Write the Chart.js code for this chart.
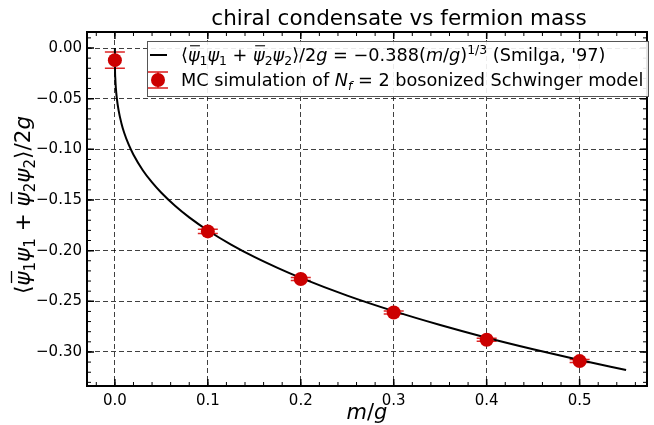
<!DOCTYPE html>
<html lang="en">
<head>
    <meta charset="UTF-8">
    <title>chiral condensate vs fermion mass</title>
    <style>
        body { margin: 0; background: #fff; }
        #wrap { width: 654px; height: 425px; }
    </style>
</head>
<body>
<div id="wrap"><canvas id="chart" width="654" height="425"></canvas></div>

<script src="https://cdn.jsdelivr.net/npm/chart.js@4.4.0/dist/chart.umd.min.js"></script>
<script>
// tick labels
const xTicks = [0.0, 0.1, 0.2, 0.3, 0.4, 0.5];
const yTicks = [0.00, -0.05, -0.10, -0.15, -0.20, -0.25, -0.30];

// MC simulation points
const mcMass = [0.0, 0.1, 0.2, 0.3, 0.4, 0.5];
const mcCondensate = [-0.012, -0.181, -0.228, -0.261, -0.288, -0.309];
const mcError = [0.008, 0.002, 0.0015, 0.0015, 0.0015, 0.0015];

// Smilga curve
const curveMass = [0, 0.0001, 0.0005, 0.001, 0.002, 0.004, 0.007, 0.01, 0.015, 0.02, 0.03, 0.04, 0.05,
    0.065, 0.08, 0.1, 0.125, 0.15, 0.175, 0.2, 0.25, 0.3, 0.35, 0.4, 0.45, 0.5, 0.55];
const curveCondensate = [0, -0.0180, -0.0308, -0.0388, -0.0489, -0.0616, -0.0742, -0.0836, -0.0957, -0.1053,
    -0.1206, -0.1327, -0.1429, -0.1560, -0.1672, -0.1801, -0.1940, -0.2062, -0.2170, -0.2269, -0.2444,
    -0.2597, -0.2734, -0.2859, -0.2973, -0.3080, -0.3179];

const FONT = '"DejaVu Sans", sans-serif';
const RED = '#cc0000';

function fmt(v, d) {
    return v.toFixed(d).replace('-', '\u2212');
}

// draw a row of mixed text pieces (italic, sub/superscript, overbar)
function runFont(r, size) {
    const s = r.sub || r.sup ? size * 0.7 : size;
    return (r.it ? 'italic ' : '') + s + 'px ' + FONT;
}
function runsWidth(ctx, runs, size) {
    let w = 0;
    runs.forEach(r => { ctx.font = runFont(r, size); w += ctx.measureText(r.t).width; });
    return w;
}
function drawRuns(ctx, runs, x, y, size) {
    ctx.textAlign = 'left';
    ctx.textBaseline = 'alphabetic';
    runs.forEach(r => {
        ctx.font = runFont(r, size);
        let dy = 0;
        if (r.sub) dy = size * 0.22;
        if (r.sup) dy = -size * 0.42;
        ctx.fillText(r.t, x, y + dy);
        const w = ctx.measureText(r.t).width;
        if (r.bar) {
            ctx.save();
            ctx.strokeStyle = ctx.fillStyle;
            ctx.lineWidth = size * 0.06;
            ctx.beginPath();
            ctx.moveTo(x + size * 0.12, y - size * 0.86);
            ctx.lineTo(x + w + size * 0.02, y - size * 0.86);
            ctx.stroke();
            ctx.restore();
        }
        x += w;
    });
}

const condensateRuns = [
    { t: '\u27E8' }, { t: '\u03C8', it: true, bar: true }, { t: '1', sub: true },
    { t: '\u03C8', it: true }, { t: '1', sub: true }, { t: ' + ' },
    { t: '\u03C8', it: true, bar: true }, { t: '2', sub: true },
    { t: '\u03C8', it: true }, { t: '2', sub: true }, { t: '\u27E9/2' }, { t: 'g', it: true }
];
const legendLine1 = condensateRuns.concat([
    { t: ' = \u22120.388(' }, { t: 'm', it: true }, { t: '/' }, { t: 'g', it: true }, { t: ')' },
    { t: '1/3', sup: true }, { t: " (Smilga, '97)" }
]);
const legendLine2 = [
    { t: 'MC simulation of ' }, { t: 'N', it: true }, { t: 'f', it: true, sub: true },
    { t: ' = 2 bosonized Schwinger model' }
];

const decorPlugin = {
    id: 'decor',
    beforeDatasetsDraw(chart) {
        // error bars under the markers
        const ctx = chart.ctx, xs = chart.scales.x, ys = chart.scales.y;
        ctx.save();
        ctx.strokeStyle = 'rgba(215,0,0,0.85)';
        ctx.lineWidth = 1.5;
        mcMass.forEach((m, i) => {
            const px = xs.getPixelForValue(m);
            const top = ys.getPixelForValue(mcCondensate[i] + mcError[i]);
            const bot = ys.getPixelForValue(mcCondensate[i] - mcError[i]);
            ctx.beginPath();
            ctx.moveTo(px, top); ctx.lineTo(px, bot);
            ctx.moveTo(px - 10, top); ctx.lineTo(px + 10, top);
            ctx.moveTo(px - 10, bot); ctx.lineTo(px + 10, bot);
            ctx.stroke();
        });
        ctx.restore();
    },
    afterDraw(chart) {
        const ctx = chart.ctx, a = chart.chartArea, xs = chart.scales.x, ys = chart.scales.y;
        ctx.save();
        ctx.strokeStyle = '#000';

        // inward ticks on all four sides
        const xMinor = [], yMinor = [];
        for (let k = -1; k <= 28; k++) xMinor.push(k * 0.02);
        for (let k = 1; k >= -33; k--) yMinor.push(k * 0.01);
        function xTick(v, len, lw) {
            const p = xs.getPixelForValue(v);
            if (p < a.left || p > a.right) return;
            ctx.lineWidth = lw;
            ctx.beginPath();
            ctx.moveTo(p, a.bottom); ctx.lineTo(p, a.bottom - len);
            ctx.moveTo(p, a.top); ctx.lineTo(p, a.top + len);
            ctx.stroke();
        }
        function yTick(v, len, lw) {
            const p = ys.getPixelForValue(v);
            if (p < a.top || p > a.bottom) return;
            ctx.lineWidth = lw;
            ctx.beginPath();
            ctx.moveTo(a.left, p); ctx.lineTo(a.left + len, p);
            ctx.moveTo(a.right, p); ctx.lineTo(a.right - len, p);
            ctx.stroke();
        }
        xMinor.forEach(v => xTick(v, 4, 1));
        yMinor.forEach(v => yTick(v, 4, 1));
        xTicks.forEach(v => xTick(v, 7, 1.5));
        yTicks.forEach(v => yTick(v, 7, 1.5));

        // frame
        ctx.lineWidth = 2;
        ctx.strokeRect(a.left, a.top, a.right - a.left, a.bottom - a.top);

        // legend
        const lx = 147, ly = 41, lw = 501, lh = 55;
        ctx.fillStyle = 'rgba(255,255,255,0.9)';
        ctx.fillRect(lx, ly, lw, lh);
        ctx.strokeStyle = '#555';
        ctx.lineWidth = 1;
        ctx.strokeRect(lx + 0.5, ly + 0.5, lw, lh);

        ctx.strokeStyle = '#000';
        ctx.lineWidth = 2;
        ctx.beginPath();
        ctx.moveTo(150, 55); ctx.lineTo(167, 55);
        ctx.stroke();

        ctx.strokeStyle = 'rgba(215,0,0,0.9)';
        ctx.lineWidth = 1.5;
        ctx.beginPath();
        ctx.moveTo(158, 72); ctx.lineTo(158, 88);
        ctx.moveTo(148, 72); ctx.lineTo(168, 72);
        ctx.moveTo(148, 88); ctx.lineTo(168, 88);
        ctx.stroke();
        ctx.fillStyle = RED;
        ctx.beginPath();
        ctx.arc(158, 80, 7, 0, Math.PI * 2);
        ctx.fill();

        ctx.fillStyle = '#000';
        drawRuns(ctx, legendLine1, 181, 61, 17.7);
        drawRuns(ctx, legendLine2, 181, 86, 17.7);

        // title and axis labels
        const cx = (a.left + a.right) / 2;
        ctx.font = '21.5px ' + FONT;
        ctx.textAlign = 'center';
        ctx.textBaseline = 'alphabetic';
        ctx.fillText('chiral condensate vs fermion mass', 399, 25);

        const xl = [{ t: 'm', it: true }, { t: '/' }, { t: 'g', it: true }];
        drawRuns(ctx, xl, cx - runsWidth(ctx, xl, 21) / 2, 419, 21);

        ctx.save();
        ctx.translate(30, (a.top + a.bottom) / 2 - 4);
        ctx.rotate(-Math.PI / 2);
        drawRuns(ctx, condensateRuns, -runsWidth(ctx, condensateRuns, 21.5) / 2, 0, 21.5);
        ctx.restore();

        ctx.restore();
    }
};

const gridStyle = {
    color: 'rgba(0,0,0,0.75)',
    lineWidth: 1,
    drawTicks: false
};

new Chart(document.getElementById('chart'), {
    type: 'scatter',
    data: {
        datasets: [
            {
                label: 'MC simulation of N_f = 2 bosonized Schwinger model',
                data: mcMass.map((m, i) => ({ x: m, y: mcCondensate[i] })),
                pointRadius: 7,
                pointHoverRadius: 7,
                pointBackgroundColor: RED,
                pointBorderWidth: 0,
                showLine: false
            },
            {
                label: 'Smilga',
                data: curveMass.map((m, i) => ({ x: m, y: curveCondensate[i] })),
                showLine: true,
                borderColor: '#000',
                borderWidth: 2,
                pointRadius: 0,
                cubicInterpolationMode: 'monotone'
            }
        ]
    },
    options: {
        responsive: false,
        animation: false,
        devicePixelRatio: 1,
        layout: { padding: { top: 32, right: 2, left: 0, bottom: 0 } },
        plugins: { legend: { display: false }, tooltip: { enabled: false }, title: { display: false } },
        scales: {
            x: {
                type: 'linear',
                min: -0.03,
                max: 0.5725,
                afterFit: s => { s.height = 39; },
                afterBuildTicks: s => { s.ticks = xTicks.map(v => ({ value: v })); },
                grid: gridStyle,
                border: { display: false, dash: [5, 3] },
                ticks: {
                    color: '#000',
                    padding: 6,
                    font: { family: FONT, size: 15 },
                    callback: v => fmt(v, 1)
                }
            },
            y: {
                type: 'linear',
                min: -0.3336,
                max: 0.0158,
                afterFit: s => { s.width = 87; },
                afterBuildTicks: s => { s.ticks = yTicks.map(v => ({ value: v })); },
                grid: gridStyle,
                border: { display: false, dash: [5, 3] },
                ticks: {
                    color: '#000',
                    padding: 5,
                    font: { family: FONT, size: 15 },
                    callback: v => fmt(v, 2)
                }
            }
        }
    },
    plugins: [decorPlugin]
});
</script>
</body>
</html>
